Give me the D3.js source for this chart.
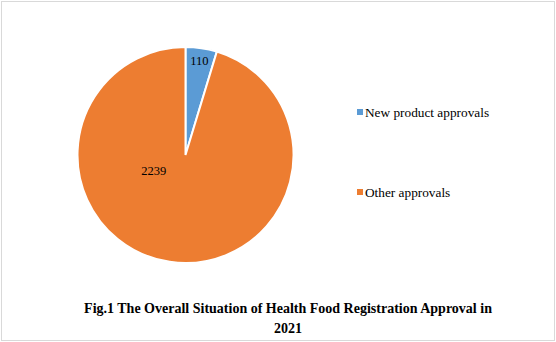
<!DOCTYPE html>
<html>
<head>
<meta charset="utf-8">
<script src="https://cdn.jsdelivr.net/npm/d3@7"></script>
<style>
  html, body { margin: 0; padding: 0; background: #fff; }
  svg { display: block; }
  text { font-family: "Liberation Serif", "Times New Roman", serif; fill: #000; }
</style>
</head>
<body>
<svg id="chart" width="556" height="342"></svg>
<script>
const categories = ["New product approvals", "Other approvals"];
const values = [110, 2239];
const colors = ["#5B9BD5", "#ED7D31"];
const titleLines = ["Fig.1 The Overall Situation of Health Food Registration Approval in", "2021"];

const svg = d3.select("#chart");
const width = 556, height = 342;

// outer frame
svg.append("rect")
  .attr("x", 1.5).attr("y", 1.5)
  .attr("width", width - 3).attr("height", height - 3)
  .attr("fill", "#fff")
  .attr("stroke", "#d9d9d9").attr("stroke-width", 1);

const cx = 185.5, cy = 155, r = 108;
const color = d3.scaleOrdinal().domain(categories).range(colors);

const pie = d3.pie().sort(null).value(d => d.value);
const data = categories.map((c, i) => ({ name: c, value: values[i] }));
const arcs = pie(data);
const arc = d3.arc().innerRadius(0).outerRadius(r);

const g = svg.append("g").attr("transform", `translate(${cx},${cy})`);
g.selectAll("path.slice")
  .data(arcs)
  .join("path")
  .attr("class", "slice")
  .attr("d", arc)
  .attr("fill", d => color(d.data.name))
  .attr("stroke", "#fff")
  .attr("stroke-width", 2);

// value labels: small slice near its rim, large slice toward the lower left
function labelPos(d, i) {
  if (i === 0) {
    const a = (d.startAngle + d.endAngle) / 2;
    const rr = r * 0.88;
    return [Math.sin(a) * rr, -Math.cos(a) * rr];
  }
  const a = d.startAngle + (d.endAngle - d.startAngle) * 0.66;
  const rr = r * 0.33;
  return [Math.sin(a) * rr, -Math.cos(a) * rr];
}
g.selectAll("text.value")
  .data(arcs)
  .join("text")
  .attr("class", "value")
  .attr("transform", (d, i) => {
    const p = labelPos(d, i);
    return `translate(${p[0]},${p[1]})`;
  })
  .attr("text-anchor", "middle")
  .attr("dy", "0.35em")
  .attr("font-size", 12.5)
  .text(d => d.data.value);

// legend
const legend = svg.append("g").attr("transform", "translate(357,0)");
const legendY = d3.scalePoint().domain(categories).range([112, 192]);
const item = legend.selectAll("g")
  .data(categories)
  .join("g")
  .attr("transform", d => `translate(0,${legendY(d)})`);
item.append("rect")
  .attr("x", 0).attr("y", -3)
  .attr("width", 6).attr("height", 6)
  .attr("fill", d => color(d));
item.append("text")
  .attr("x", 8).attr("dy", "0.35em")
  .attr("font-size", 13.3)
  .text(d => d);

// caption
svg.append("text")
  .attr("text-anchor", "middle")
  .attr("font-size", 14)
  .attr("font-weight", "bold")
  .selectAll("tspan")
  .data(titleLines)
  .join("tspan")
  .attr("x", 288)
  .attr("y", (d, i) => 313 + i * 20)
  .text(d => d);
</script>
</body>
</html>
